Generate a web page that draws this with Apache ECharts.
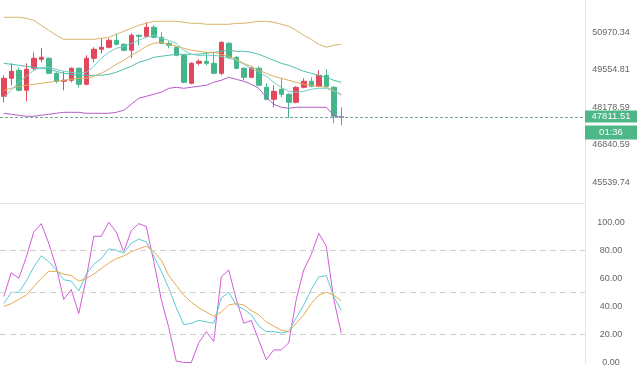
<!DOCTYPE html>
<html><head><meta charset="utf-8">
<script src="https://cdn.jsdelivr.net/npm/echarts@6/dist/echarts.min.js"></script>
<style>html,body{margin:0;padding:0;background:#fff}#c{width:640px;height:367px}</style>
</head><body><div id="c"></div>
<script>
// ---- candle data (price) ----
const opens=[48579,49240,49536,48798,49611,49947,49985,49425,49129,49166,49611,49018,49985,50324,50399,50665,50513,50286,50856,50817,51162,50779,50551,50399,50097,49055,49797,49872,49797,49425,50551,50022,49611,49277,49611,48908,48469,48835,48652,48360,48908,49129,48945,49351,48908,47840];
const closes=[49240,49499,48798,49574,49985,50022,49425,49129,49166,49611,49018,49985,50324,50399,50665,50513,50286,50856,50817,51162,50779,50551,50475,50097,49092,49797,49872,49797,49425,50589,50022,49611,49277,49611,48982,48469,48761,48652,48360,48908,49129,48945,49351,48945,47855,47811.51];
const lows=[48360,48982,48761,48397,49536,49835,49400,49055,48798,49092,48908,48982,49835,50173,50362,50475,50248,49985,50475,50779,50741,50513,50362,50060,49055,49018,49723,49723,49388,49351,49985,49574,49166,49240,48945,48433,48179,48542,47783,48324,48871,48908,48908,48908,47604,47531];
const highs=[49351,49797,49648,49797,50210,50362,50010,49460,49499,49648,49648,50097,50399,50741,50741,50932,50551,50932,50894,51355,51239,50970,50627,50437,50135,49835,49947,50210,50210,50627,50589,50060,49648,49685,49685,49055,48982,49240,48688,48945,49240,49277,49536,49574,48945,48179];
// ---- overlays ----
const bollUpper=[51548,51548,51548,51509,51432,51239,51047,50856,50703,50703,50703,50703,50703,50741,50779,50894,51009,51124,51239,51316,51393,51393,51393,51393,51355,51316,51316,51278,51278,51278,51278,51316,51316,51355,51393,51393,51355,51278,51201,51047,50856,50703,50513,50399,50475,50513];
const bollMid=[49797,49760,49723,49685,49648,49611,49574,49499,49425,49388,49351,49351,49351,49351,49388,49462,49574,49685,49835,49910,50022,50060,50097,50135,50135,50135,50135,50173,50210,50248,50286,50248,50248,50210,50135,50022,49910,49797,49723,49611,49499,49425,49351,49277,49166,49092];
const bollLower=[47962,47926,47890,47855,47855,47890,47926,47962,47998,47998,47998,47962,47962,47962,47962,47998,48071,48288,48506,48579,48652,48725,48871,48908,48871,48908,48945,48982,49092,49166,49277,49203,49129,49018,48871,48542,48288,48179,48143,48179,48179,48179,48179,48179,47890,47819];
const maSlow=[48798,48871,48945,48982,49018,49055,49092,49129,49166,49203,49240,49240,49314,49425,49574,49760,49910,50097,50248,50437,50551,50589,50513,50437,50362,50286,50248,50210,50210,50135,50060,49947,49797,49685,49536,49425,49314,49240,49166,49092,49018,48982,48945,48908,48798,48615];
const maFast=[48542,48798,49092,49314,49536,49648,49648,49574,49499,49462,49425,49462,49685,49985,50210,50362,50437,50551,50665,50779,50856,50741,50665,50551,50286,50135,50097,50097,50097,50060,49985,49910,49760,49611,49462,49314,49092,48908,48761,48725,48761,48835,48871,48871,48761,48652];
// ---- oscillator ----
const oscFast=[47,64,60,75,93,99,85,68,45,52,35,60,90,90,100,93,79,94,99,97,72,45,25,1,0,0,14,22,15,61,66,45,28,30,16,2,9,9,14,45,66,77,92,83,45,21];
const oscK=[42,50,50,58,68,76,72,66,59,58,51,63,70,74,81,80,78,85,88,86,76,65,53,39,27,28,30,29,28,46,50,41,38,34,26,22,22,21,22,32,41,52,61,62,47,37];
const oscD=[40,42,45,48,54,60,65,65,63,62,58,60,63,67,71,74,76,79,81,83,79,73,62,55,48,43,39,36,33,36,41,42,41,37,34,29,26,23,22,28,34,42,48,50,48,44];
// ---- axes ----
const priceTicks=[45539.74,46840.59,48178.59,49554.81,50970.34];
const oscTicks=[0,20,40,60,80,100];
const oscLevels=[80,50,20];
const lastPrice=47811.51;
const countdown='01:36';
const SLOTS=78;

const UP='#e2485c', DOWN='#45b58a', BOX='#4db788';
const cats=Array.from({length:SLOTS},(_,i)=>String(i));
const axisLabelStyle={fontSize:9,color:'#666',fontFamily:'Liberation Sans',align:'center',margin:26};

const chart=echarts.init(document.getElementById('c'),null,{renderer:'canvas'});
function line(data,color,xi,yi,extra){
  return Object.assign({type:'line',data:data,xAxisIndex:xi,yAxisIndex:yi,showSymbol:false,symbol:'none',
    lineStyle:{width:1,color:color},itemStyle:{color:color},silent:true,z:3},extra||{});
}
chart.setOption({
  animation:false,
  backgroundColor:'#fff',
  grid:[{left:0,right:55,top:0,height:203},{left:0,right:55,top:204,bottom:0}],
  xAxis:[
    {type:'category',gridIndex:0,data:cats,boundaryGap:true,axisLine:{show:true,lineStyle:{color:'#e4e4e4'}},axisTick:{show:false},axisLabel:{show:false},splitLine:{show:false}},
    {type:'category',gridIndex:1,data:cats,boundaryGap:true,axisLine:{show:false},axisTick:{show:false},axisLabel:{show:false},splitLine:{show:false}}
  ],
  yAxis:[
    {type:'log',logBase:10,gridIndex:0,position:'right',min:44837,max:52222,
      axisLine:{show:true,lineStyle:{color:'#e4e4e4'}},axisTick:{show:false},splitLine:{show:false},
      axisLabel:Object.assign({customValues:priceTicks,formatter:v=>Number(v).toFixed(2)},axisLabelStyle)},
    {type:'value',gridIndex:1,position:'right',min:-0.7,max:113,
      axisLine:{show:true,lineStyle:{color:'#e4e4e4'}},axisTick:{show:false},splitLine:{show:false},
      axisLabel:Object.assign({customValues:oscTicks,formatter:v=>Number(v).toFixed(2)},axisLabelStyle)}
  ],
  series:[
    {type:'candlestick',xAxisIndex:0,yAxisIndex:0,barWidth:5,z:2,
      data:opens.map((o,i)=>[o,closes[i],lows[i],highs[i]]),
      itemStyle:{color:UP,color0:DOWN,borderColor:UP,borderColor0:DOWN,borderWidth:1},
      markLine:{silent:true,symbol:['none','none'],
        lineStyle:{color:'#79a596',type:[3,2],width:1},
        label:{show:true,position:'end',distance:0,padding:[15,0,0,0],
          formatter:'{a|'+lastPrice.toFixed(2)+'}\n{b|'+countdown+'}',
          rich:{
            a:{width:52,height:12,lineHeight:15,verticalAlign:'top',align:'center',backgroundColor:BOX,color:'#fff',fontSize:9.5,fontFamily:'Liberation Sans'},
            b:{width:52,height:14,lineHeight:14,align:'center',backgroundColor:BOX,color:'#fff',fontSize:9.5,fontFamily:'Liberation Sans'}
          }},
        data:[{yAxis:lastPrice}]}
    },
    line(bollUpper,'#d8b46a',0,0),
    line(bollMid,'#4fbfae',0,0),
    line(bollLower,'#b65cc9',0,0),
    line(maSlow,'#dfae5e',0,0),
    line(maFast,'#72cfc8',0,0),
    line(oscFast,'#d35ad8',1,1,{markLine:{silent:true,symbol:['none','none'],label:{show:false},
      lineStyle:{color:'#cfcfcf',type:[6,4],width:1},data:oscLevels.map(v=>({yAxis:v}))}}),
    line(oscK,'#5ccbd3',1,1),
    line(oscD,'#e6a94d',1,1)
  ]
});
</script></body></html>
